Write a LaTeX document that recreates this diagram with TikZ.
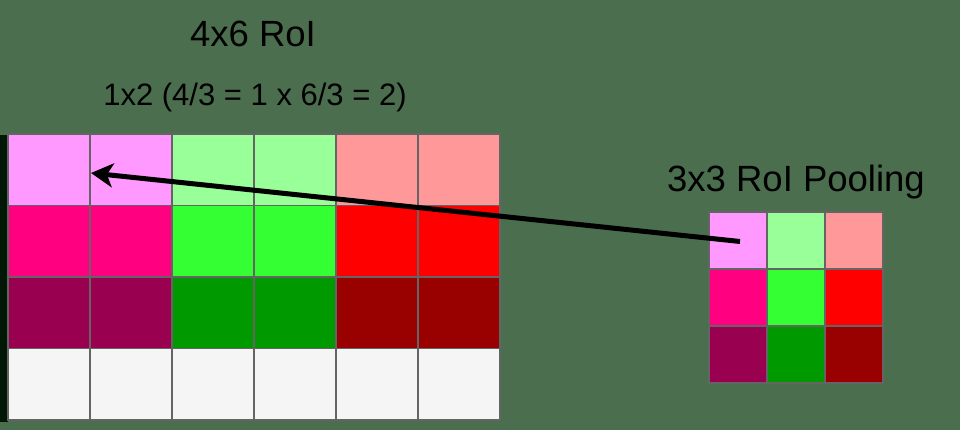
\documentclass[tikz,border=0pt]{standalone}
\usepackage{fontspec}
\setmainfont{Liberation Sans}
\usetikzlibrary{arrows.meta,calc}
\definecolor{bgc}{RGB}{75,110,78}
\definecolor{strip}{RGB}{2,24,6}
\definecolor{gridc}{RGB}{100,100,100}
\definecolor{cA1}{HTML}{FF99FF}
\definecolor{cA2}{HTML}{99FF99}
\definecolor{cA3}{HTML}{FF9999}
\definecolor{cB1}{HTML}{FF0080}
\definecolor{cB2}{HTML}{33FF33}
\definecolor{cB3}{HTML}{FF0000}
\definecolor{cC1}{HTML}{990050}
\definecolor{cC2}{HTML}{009900}
\definecolor{cC3}{HTML}{990000}
\definecolor{cD}{HTML}{F5F5F5}
\tikzset{
  lcell/.style={draw=gridc, line width=1.5pt, minimum width=82pt, minimum height=71.5pt, inner sep=0pt, outer sep=0pt, anchor=north west},
  rcell/.style={draw=gridc, line width=1.5pt, minimum width=58pt, minimum height=57pt, inner sep=0pt, outer sep=0pt, anchor=north west},
  bigtxt/.style={font=\fontsize{36.5}{42}\selectfont, text=black, inner sep=0pt, anchor=base},
  midtxt/.style={font=\fontsize{31}{36}\selectfont, text=black, inner sep=0pt, anchor=base},
  poolarrow/.style={line width=5pt, -{Stealth[length=22pt,width=24pt,inset=6pt]}}
}
\begin{document}
\begin{tikzpicture}[x=1pt,y=-1pt]
\fill[bgc] (0,0) rectangle (960,430);
\useasboundingbox (0,0) rectangle (960,430);
\fill[strip] (0,135) rectangle (7.5,422);
% left grid 4x6
\foreach \r/\ca/\cb/\cc in {1/cA1/cA2/cA3, 2/cB1/cB2/cB3, 3/cC1/cC2/cC3, 4/cD/cD/cD}{
  \foreach \c/\col in {1/\ca, 2/\ca, 3/\cb, 4/\cb, 5/\cc, 6/\cc}{
    \node[lcell, fill=\col] (L-\r-\c) at ({8+82*(\c-1)}, {134+71.5*(\r-1)}) {};
  }
}
% right grid 3x3
\foreach \r/\ca/\cb/\cc in {1/cA1/cA2/cA3, 2/cB1/cB2/cB3, 3/cC1/cC2/cC3}{
  \foreach \c/\col in {1/\ca, 2/\cb, 3/\cc}{
    \node[rcell, fill=\col] (R-\r-\c) at ({709+58*(\c-1)}, {212+57*(\r-1)}) {};
  }
}
% texts
\node[bigtxt] (t1) at (253,47) {4x6 RoI};
\node[midtxt] (t2) at (255,106) {1x2 (4/3 = 1 x 6/3 = 2)};
\node[bigtxt] (t3) at (796,192) {3x3 RoI Pooling};
% arrow
\coordinate (tip) at (91,173);
\draw[poolarrow] ($(R-1-1.center)+(2,1)$) -- (tip);
\end{tikzpicture}
\end{document}
